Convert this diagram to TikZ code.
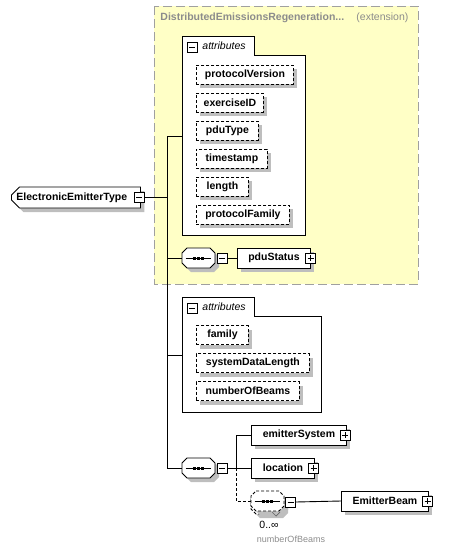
\documentclass[tikz,border=0pt]{standalone}
\usepackage{fontspec}
\setmainfont{Liberation Sans}
\usetikzlibrary{shapes.misc,shadows}
\definecolor{extfill}{HTML}{FFFFC6}
\definecolor{extline}{HTML}{A0A0A0}
\definecolor{shadowgray}{HTML}{BEBEBE}
\definecolor{titlegray}{HTML}{8C8C8C}
\newcommand\dfont{\fontsize{10.5pt}{12.5pt}\selectfont}
% octagon outline round a sequence node
\newcommand\octpath[3]{(#1.center) ++(#2-11.5,#3-10) -- ++(23,0) -- ++(5,5) -- ++(0,10) -- ++(-5,5)
  -- ++(-23,0) -- ++(-5,-5) -- ++(0,-10) -- cycle}
% sequence compositor: shadow, outline, line with three dots
\newcommand\seqbox[2][]{
  \fill[shadowgray] \octpath{#2}{4}{4};
  \draw[fill=white, #1] \octpath{#2}{0}{0};
  \draw ([xshift=4pt]#2.west) -- ([xshift=-4pt]#2.east);
  \foreach \dx in {-4,0,4}
    \fill ([xshift=\dx pt-1.5pt, yshift=1.5pt]#2.center) rectangle +(3,3);
}
\tikzset{
  boxshadow/.style={drop shadow={shadow xshift=4pt,shadow yshift=-4pt,fill=shadowgray,opacity=1}},
  elem/.style={draw, fill=white, minimum height=20, inner sep=0, anchor=west, font=\dfont\bfseries, boxshadow},
  attr/.style={elem, dash pattern=on 3pt off 2pt, minimum height=19},
  seq/.style={minimum width=33, minimum height=20, inner sep=0},
  icon/.style={draw, fill=white, line width=0.8pt, minimum size=10, inner sep=0},
  minusicon/.style={icon, path picture={
      \draw ([xshift=2pt]path picture bounding box.west) -- ([xshift=-2pt]path picture bounding box.east);}},
  plusicon/.style={icon, path picture={
      \draw ([xshift=2pt]path picture bounding box.west) -- ([xshift=-2pt]path picture bounding box.east);
      \draw ([yshift=-2pt]path picture bounding box.north) -- ([yshift=2pt]path picture bounding box.south);}},
  attrgroup/.style={draw, fill=white},
  grouplabel/.style={anchor=west, inner sep=0, font=\dfont\itshape},
}
\begin{document}
\begin{tikzpicture}[x=1pt, y=-1pt, line width=0.9pt]
\useasboundingbox (0,0) rectangle (462,552);

%extension area
\draw[extline, fill=extfill, dash pattern=on 9pt off 4pt] (154,6) rectangle (418,284);
\node[anchor=west, inner sep=0, text=titlegray, font=\dfont\bfseries] (base) at (160,18) {DistributedEmissionsRegeneration...};
\node[anchor=west, inner sep=0, text=titlegray, font=\dfont] (ext) at (356,18) {(extension)};

%root element
\node[elem, chamfered rectangle, chamfered rectangle corners={north west,south west},
  chamfered rectangle xsep=4pt, chamfered rectangle ysep=4pt,
  minimum height=21, text width=119, align=left, inner xsep=1] (root) at (11,197.5) {ElectronicEmitterType};
\node[minusicon] (rootm) at (139,197.5) {};

%spine
\coordinate (jr) at (167,197.5);
\coordinate (ja) at (167,136);
\coordinate (jb) at (167,355);
\coordinate (jd) at (167,468);
\draw (rootm.east) -- (jr);
\draw (ja) -- (jd);

%attribute group of the base type
\draw[attrgroup] (182,235) -- (182,36) -- (254,36) -- (254,55) -- (305,55) -- (305,235) -- cycle;
\coordinate (ga) at (182,136);
\node[minusicon] (gam) at (192,47) {};
\node[grouplabel] (gal) at (202,46) {attributes};
\draw (ja) -- (ga);
\node[attr, minimum width=97] (pv) at (196,74.5) {protocolVersion};
\node[attr, minimum width=67] (ei) at (196,102.5) {exerciseID};
\node[attr, minimum width=62] (pt) at (196,130.5) {pduType};
\node[attr, minimum width=71] (ts) at (196,158.5) {timestamp};
\node[attr, minimum width=52] (len) at (196,186.5) {length};
\node[attr, minimum width=93] (pf) at (196,214.5) {protocolFamily};

%sequence of the base type
\node[seq] (s1) at (198.5,258) {};
\seqbox{s1}
\node[minusicon] (s1m) at (222,258) {};
\node[elem, minimum width=73] (pdu) at (237,258) {pduStatus};
\node[plusicon] (pdup) at (310.5,258) {};
\draw (jr |- s1) -- (s1.west);
\draw (s1m.east) -- (pdu.west);

%own attribute group
\draw[attrgroup] (182,412) -- (182,297) -- (254,297) -- (254,316) -- (321,316) -- (321,412) -- cycle;
\coordinate (gb) at (182,355);
\node[minusicon] (gbm) at (192,308) {};
\node[grouplabel] (gbl) at (202,307) {attributes};
\draw (jb) -- (gb);
\node[attr, minimum width=52] (fam) at (196,335) {family};
\node[attr, minimum width=113] (sdl) at (196,363) {systemDataLength};
\node[attr, minimum width=103] (nob) at (196,391) {numberOfBeams};

%own sequence
\node[seq] (s2) at (198.5,468) {};
\seqbox{s2}
\node[minusicon] (s2m) at (222,468) {};
\draw (jd) -- (s2.west);
\coordinate (jc) at (236,468);
\node[elem, minimum width=95] (es) at (251,435) {emitterSystem};
\node[plusicon] (esp) at (345,435) {};
\node[elem, minimum width=63] (loc) at (251,468) {location};
\node[plusicon] (locp) at (313.5,468) {};
\draw (s2m.east) -- (loc.west);
\draw (jc) |- (es.west);

%repeated sequence
\node[seq] (s3b) at (267.5,504) {};
\node[seq] (s3) at (267.5,501) {};
\fill[shadowgray] \octpath{s3b}{4}{4};
\draw[dash pattern=on 3pt off 2pt, fill=white] \octpath{s3b}{0}{0};
\seqbox[dash pattern=on 3pt off 2pt]{s3}
\draw[black!60, line width=0.7pt] (272,512) -- (276,516) -- (280,512);
\node[minusicon] (s3m) at (290.5,502) {};
\draw[dash pattern=on 3pt off 2pt] (jc) |- (s3.west);
\node[elem, minimum width=87] (eb) at (341,501) {EmitterBeam};
\node[plusicon] (ebp) at (427.5,501) {};
\draw (s3m.east) -- (eb.west);
\node[inner sep=0, font=\dfont] (mult) at (269,525) {0..∞};
\node[inner sep=0, text=titlegray, font=\fontsize{9pt}{10pt}\selectfont] (occ) at (291,539) {numberOfBeams};
\end{tikzpicture}
\end{document}
